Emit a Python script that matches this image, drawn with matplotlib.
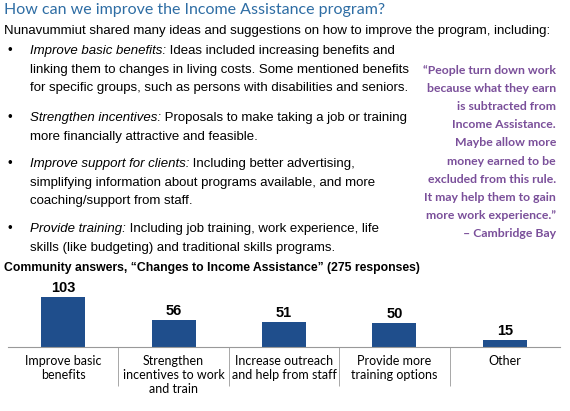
import matplotlib.pyplot as plt

categories = ['Improve basic\nbenefits', 'Strengthen\nincentives to work\nand train',
              'Increase outreach\nand help from staff', 'Provide more\ntraining options', 'Other']
values = [103, 56, 51, 50, 15]

W, H = 570, 411
fig = plt.figure(figsize=(W / 100, H / 100), dpi=100)
plt.rcParams['font.family'] = ['Liberation Sans', 'DejaVu Sans']

def px(x, y):
    return x / W, 1 - y / H

fig.text(*px(4, 10), 'How can we improve the Income Assistance program?', color='#2e6da4',
         fontsize=11.5, va='center', family='Lato')
fig.text(*px(4, 31), 'Nunavummiut shared many ideas and suggestions on how to improve the program, including:',
         fontsize=9.5, va='center')

bullets = [
    (51, 'Improve basic benefits:', ' Ideas included increasing benefits and',
     ['linking them to changes in living costs. Some mentioned benefits',
      'for specific groups, such as persons with disabilities and seniors.']),
    (118, 'Strengthen incentives:', ' Proposals to make taking a job or training',
     ['more financially attractive and feasible.']),
    (164, 'Improve support for clients:', ' Including better advertising,',
     ['simplifying information about programs available, and more',
      'coaching/support from staff.']),
    (229, 'Provide training:', ' Including job training, work experience, life',
     ['skills (like budgeting) and traditional skills programs.']),
]
for y, head, rest, more in bullets:
    fig.text(*px(8, y), '•', fontsize=9.5, va='center')
    t = fig.text(*px(30, y), head, fontsize=9.5, style='italic', va='center')
    fig.canvas.draw()
    bb = t.get_window_extent()
    fig.text(bb.x1 / W, 1 - y / H, rest, fontsize=9.5, va='center')
    for i, line in enumerate(more):
        fig.text(*px(30, y + 18.6 * (i + 1)), line, fontsize=9.5, va='center')

quote = ['\u201cPeople turn down work', 'because what they earn', 'is subtracted from',
         'Income Assistance.', 'Maybe allow more', 'money earned to be',
         'excluded from this rule.', 'It may help them to gain',
         'more work experience.\u201d', '\u2013 Cambridge Bay']
for i, line in enumerate(quote):
    fig.text(*px(556, 70 + 18.2 * i), line, fontsize=8.8, fontweight='bold',
             color='#7a4f9a', ha='right', va='center', family='Lato')

fig.text(*px(4, 268), 'Community answers, \u201cChanges to Income Assistance\u201d (275 responses)',
         fontsize=8.8, fontweight='bold', va='center')

ax = fig.add_axes([8 / W, 1 - 347 / H, 552 / W, 50 / H])
x = range(len(values))
ax.bar(x, values, width=0.4, color='#1f4e8c')
for xi, v in zip(x, values):
    ax.text(xi, v + 4, str(v), ha='center', va='bottom', fontsize=10.5, fontweight='bold')
ax.set_xlim(-0.5, len(values) - 0.5)
ax.set_ylim(0, 103)
ax.set_yticks([])
for s in ['top', 'right', 'left']:
    ax.spines[s].set_visible(False)
ax.spines['bottom'].set_color('#999999')
ax.set_xticks([i + 0.5 for i in range(len(values) - 1)], minor=True)
ax.tick_params(axis='x', which='minor', length=28, color='#999999')
ax.set_xticks(list(x))
ax.set_xticklabels(categories, fontsize=9, va='top', family='Lato')
ax.tick_params(axis='x', which='major', length=0, pad=6)

fig.savefig('out.png', dpi=100)
